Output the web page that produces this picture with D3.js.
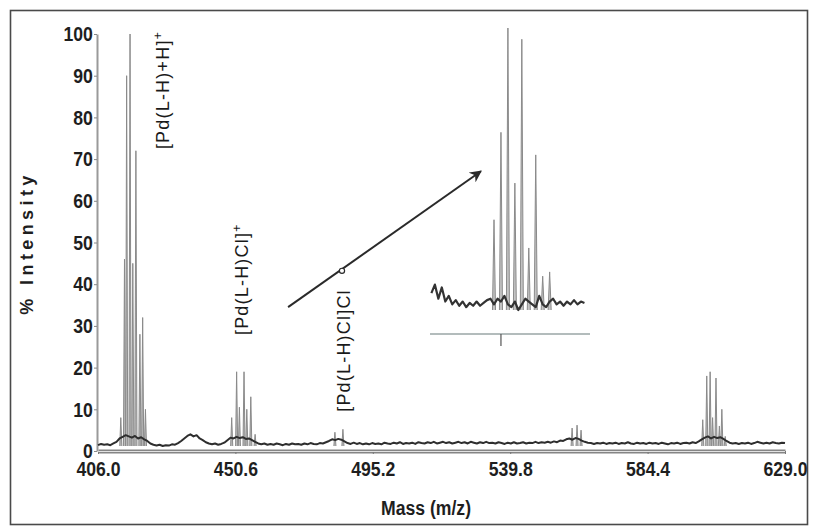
<!DOCTYPE html>
<html>
<head>
<meta charset="utf-8">
<script src="https://cdn.jsdelivr.net/npm/d3@7"></script>
<style>
  body { margin: 0; background: #fff; }
  svg { display: block; }
</style>
</head>
<body>
<svg id="chart" width="813" height="530"></svg>
<script>
// ---- Data -------------------------------------------------------------
// Axis tick labels
const massTicks = [406.0, 450.6, 495.2, 539.8, 584.4, 629.0];
const intensityTicks = [0, 10, 20, 30, 40, 50, 60, 70, 80, 90, 100];

// Baseline trace: m/z 406 → 629 in steps of 1, % intensity
const baselineIntensity = [
  1.4, 1.7, 1.5, 1.6, 1.4, 1.8, 2.2,                      // 406–412
  3.0, 3.4, 3.8, 3.5, 3.2, 3.6, 3.0, 3.3, 2.8, 2.4,       // 413–422
  1.8, 1.5, 1.3, 1.5, 1.2, 1.4, 1.3, 1.6, 1.5, 1.9,       // 423–432
  2.4, 3.0, 3.6, 4.0, 3.5, 3.8, 3.0, 2.6, 2.1, 1.8,       // 433–442
  1.6, 1.8, 1.5, 1.7, 2.0, 2.6, 3.2, 3.0, 3.4, 3.1,       // 443–452
  3.3, 2.9, 3.0, 2.6, 2.2, 1.8, 1.6, 1.8, 1.5, 1.7,       // 453–462
  1.5, 1.8, 1.6, 1.4, 1.7, 1.5, 1.8, 1.6, 1.7, 1.5,       // 463–472
  1.8, 1.6, 1.9, 1.7, 1.6, 1.9, 1.8, 2.1, 2.4, 2.8,       // 473–482
  2.6, 2.9, 2.7, 2.3, 1.9, 1.7, 2.0, 1.7, 1.9, 1.6,       // 483–492
  1.8, 1.6, 1.9, 1.7, 1.8, 1.6, 2.0, 1.8, 1.7, 2.0,       // 493–502
  1.8, 2.1, 1.7, 1.9, 1.8, 2.0, 1.7, 2.1, 1.9, 1.8,       // 503–512
  2.1, 1.9, 2.2, 1.8, 2.0, 2.2, 1.9, 2.1, 1.8, 2.0,       // 513–522
  2.2, 1.9, 2.1, 1.8, 2.2, 2.0, 1.8, 2.1, 1.9, 2.2,       // 523–532
  1.9, 2.0, 1.8, 2.1, 1.9, 1.7, 2.0, 1.8, 2.1, 1.8,       // 533–542
  1.9, 2.1, 1.8, 2.0, 1.9, 2.2, 1.9, 2.1, 2.0, 2.2,       // 543–552
  2.0, 2.3, 2.1, 2.5, 2.4, 2.8, 3.0, 2.7, 3.1, 2.9,       // 553–562
  2.5, 2.2, 2.0, 1.9, 1.7, 1.9, 1.8, 2.0, 1.7, 1.9,       // 563–572
  1.8, 2.0, 1.7, 1.9, 1.8, 2.1, 1.8, 1.7, 2.0, 1.8,       // 573–582
  1.9, 1.7, 2.0, 1.8, 1.9, 1.7, 2.0, 1.8, 1.6, 1.9,       // 583–592
  1.8, 2.0, 1.7, 1.9, 2.0, 1.8, 2.1, 1.9, 2.3, 2.8,       // 593–602
  3.2, 3.5, 3.0, 3.4, 3.1, 3.3, 2.9, 2.4, 2.0, 1.8,       // 603–612
  1.9, 1.7, 1.9, 1.8, 2.0, 1.7, 1.9, 2.2, 2.0, 1.8,       // 613–622
  2.0, 1.8, 2.1, 1.9, 1.8, 2.0, 1.9                       // 623–629
];
const baselineMz = d3.range(406, 629.5, 1);

// Isotope clusters: [m/z, % intensity]
const protonatedPeaks = [
  [413.4, 8], [414.6, 46], [415.3, 90], [416.4, 100], [417.3, 45],
  [418.3, 72], [419.6, 28], [420.5, 32], [421.4, 10]
];
const chloridePeaks = [
  [449.4, 8], [451.0, 19], [451.9, 10.5], [453.4, 19], [454.3, 10],
  [455.6, 13], [457.0, 4]
];
const dichloridePeaks = [[482.9, 4.5], [485.5, 5.2]];
const minorPeaks560 = [[559.9, 5.5], [561.5, 6.2], [562.8, 5]];
const peaks605 = [
  [602.3, 7.5], [603.6, 18], [604.7, 19], [605.5, 8], [606.6, 17.5],
  [607.7, 6], [608.5, 10], [609.6, 3.5]
];

// Expanded view of the [Pd(L-H)Cl]Cl cluster (relative intensity)
const insetPeaks = [
  [485, 32], [486, 63], [487, 100], [488, 45], [489, 96],
  [490, 22], [491, 55], [492, 12], [493, 13.5]
];
const insetBaseline = [
  6, 9, 4, 8, 3, 5, 2, 3.5, 1.5, 3,
  1, 2.5, 1.5, 3, 1.5, 2.5, 3.5, 4, 2, 4,
  3, 5, 2, 1, 3, 0, 2, 4, 3, 2,
  1, 5, 2, 1, 3, 4, 2, 3, 1.5, 3,
  2, 3.5, 2, 3, 2.5
];
const insetMz = d3.range(476, 498.01, 0.5);
const insetTick = [486];

// Species labels: text, superscript, anchor [m/z, % intensity]
const speciesLabels = [
  { text: "[Pd(L-H)+H]", sup: "+", at: [429.0, 72.4] },
  { text: "[Pd(L-H)Cl]", sup: "+", at: [454.7, 27.8] },
  { text: "[Pd(L-H)Cl]Cl", sup: "", at: [487.8, 9.4] }
];
// Arrow pointing to the expanded view: [m/z, % intensity]
const arrowFrom = [467.7, 34.5];
const arrowTo = [530.3, 67.1];
const arrowDot = [485.2, 43.2];

// ---- Drawing ----------------------------------------------------------
const svg = d3.select("#chart");
const textFont = "'Liberation Sans', Arial, sans-serif";
const squeeze = "scale(0.84,1)";   // condensed look for the bold axis numbers

svg.append("rect")
  .attr("x", 10.5).attr("y", 10.5)
  .attr("width", 797).attr("height", 514)
  .attr("fill", "#fff")
  .attr("stroke", "#4a4a4a").attr("stroke-width", 1.6);

const x = d3.scaleLinear().domain([406, 629]).range([98, 785]);
const y = d3.scaleLinear().domain([0, 100]).range([451, 34]);

// Axes
const xAxisG = svg.append("g").attr("transform", "translate(0,451)")
  .call(d3.axisBottom(x).tickValues(massTicks).tickFormat(d3.format(".1f"))
    .tickSize(3).tickPadding(7).tickSizeOuter(0));
xAxisG.select(".domain").attr("stroke", "#858585").attr("stroke-width", 4);
xAxisG.append("line")
  .attr("x1", x.range()[0]).attr("x2", x.range()[1])
  .attr("y1", 0.5).attr("y2", 0.5)
  .attr("stroke", "#e2e2e2").attr("stroke-width", 1.2);
xAxisG.selectAll(".tick line").attr("stroke", "#777");
xAxisG.selectAll(".tick text")
  .attr("fill", "#1e1e1e")
  .attr("transform", squeeze)
  .style("font-family", textFont).style("font-weight", "bold").style("font-size", "21px");

const yAxisG = svg.append("g").attr("transform", "translate(97,0)")
  .call(d3.axisLeft(y).tickValues(intensityTicks).tickFormat(d3.format("d"))
    .tickSize(3).tickPadding(2).tickSizeOuter(0));
yAxisG.select(".domain").attr("stroke", "#9a9a9a").attr("stroke-width", 2);
yAxisG.selectAll(".tick line").attr("stroke", "#888");
yAxisG.selectAll(".tick text")
  .attr("fill", "#1e1e1e")
  .attr("transform", squeeze)
  .style("font-family", textFont).style("font-weight", "bold").style("font-size", "21px");

// Axis titles
svg.append("text")
  .attr("transform", "translate(426,515) " + squeeze)
  .attr("text-anchor", "middle")
  .attr("fill", "#1e1e1e")
  .style("font-family", textFont).style("font-weight", "bold").style("font-size", "21px")
  .text("Mass (m/z)");
svg.append("text")
  .attr("transform", "translate(33,243) rotate(-90)")
  .attr("text-anchor", "middle")
  .attr("fill", "#1e1e1e")
  .style("font-family", textFont).style("font-weight", "bold").style("font-size", "18px")
  .style("letter-spacing", "4.4px")
  .text("% Intensity");

// Spectrum peaks (narrow triangles) then baseline on top
const line = d3.line().x(d => d[0]).y(d => d[1]);
function peakPath(sx, sy, halfWidth, baseVal) {
  return d => line([
    [sx(d[0] - halfWidth), sy(baseVal)],
    [sx(d[0]), sy(d[1])],
    [sx(d[0] + halfWidth), sy(baseVal)]
  ]);
}
const allPeaks = [].concat(protonatedPeaks, chloridePeaks, dichloridePeaks, minorPeaks560, peaks605);
svg.append("g").selectAll("path").data(allPeaks).join("path")
  .attr("d", peakPath(x, y, 0.34, 1.2))
  .attr("fill", "#bdbdbd")
  .attr("stroke", "#8a8a8a").attr("stroke-width", 1);

svg.append("path")
  .datum(baselineMz.map((m, i) => [m, baselineIntensity[i]]))
  .attr("d", d3.line().x(d => x(d[0])).y(d => y(d[1])))
  .attr("fill", "none").attr("stroke", "#2e2e2e").attr("stroke-width", 2)
  .attr("stroke-linejoin", "round");

// Species labels
speciesLabels.forEach(l => {
  const t = svg.append("text")
    .attr("transform", `translate(${x(l.at[0])},${y(l.at[1])}) rotate(-90)`)
    .attr("fill", "#1a1a1a")
    .style("font-family", textFont).style("font-size", "18px")
    .style("letter-spacing", "1.2px");
  t.append("tspan").text(l.text);
  if (l.sup) {
    t.append("tspan").attr("dy", -7).style("font-size", "12px").text(l.sup);
  }
});

// Arrow to the expanded cluster
const defs = svg.append("defs");
defs.append("marker")
  .attr("id", "arrowhead").attr("viewBox", "0 0 10 10")
  .attr("refX", 9).attr("refY", 5)
  .attr("markerWidth", 6).attr("markerHeight", 6)
  .attr("markerUnits", "strokeWidth")
  .attr("orient", "auto")
  .append("path").attr("d", "M0,0 L10,5 L0,10 L3,5 Z").attr("fill", "#2a2a2a");
svg.append("line")
  .attr("x1", x(arrowFrom[0])).attr("y1", y(arrowFrom[1]))
  .attr("x2", x(arrowTo[0])).attr("y2", y(arrowTo[1]))
  .attr("stroke", "#2a2a2a").attr("stroke-width", 2)
  .attr("marker-end", "url(#arrowhead)");
svg.append("circle")
  .attr("cx", x(arrowDot[0])).attr("cy", y(arrowDot[1])).attr("r", 2.6)
  .attr("fill", "#fff").attr("stroke", "#2a2a2a").attr("stroke-width", 1.2);

// Expanded view
const ix = d3.scaleLinear().domain([475.8, 498.8]).range([430, 590]);
const iy = d3.scaleLinear().domain([0, 100]).range([310, 28]);
const inset = svg.append("g");
inset.append("line")
  .attr("x1", ix.range()[0]).attr("x2", ix.range()[1])
  .attr("y1", 334).attr("y2", 334)
  .attr("stroke", "#b3bcbc").attr("stroke-width", 2.2);
inset.selectAll("line.itick").data(insetTick).join("line").attr("class", "itick")
  .attr("x1", d => ix(d)).attr("x2", d => ix(d))
  .attr("y1", 334).attr("y2", 346)
  .attr("stroke", "#555").attr("stroke-width", 1.2);
inset.selectAll("path.ipeak").data(insetPeaks).join("path").attr("class", "ipeak")
  .attr("d", peakPath(ix, iy, 0.22, 0))
  .attr("fill", "#c4c4c4")
  .attr("stroke", "#8a8a8a").attr("stroke-width", 1);
inset.append("path")
  .datum(insetMz.map((m, i) => [m, insetBaseline[i]]))
  .attr("d", d3.line().x(d => ix(d[0])).y(d => iy(d[1])))
  .attr("fill", "none").attr("stroke", "#333").attr("stroke-width", 2.2)
  .attr("stroke-linejoin", "round");
</script>
</body>
</html>
